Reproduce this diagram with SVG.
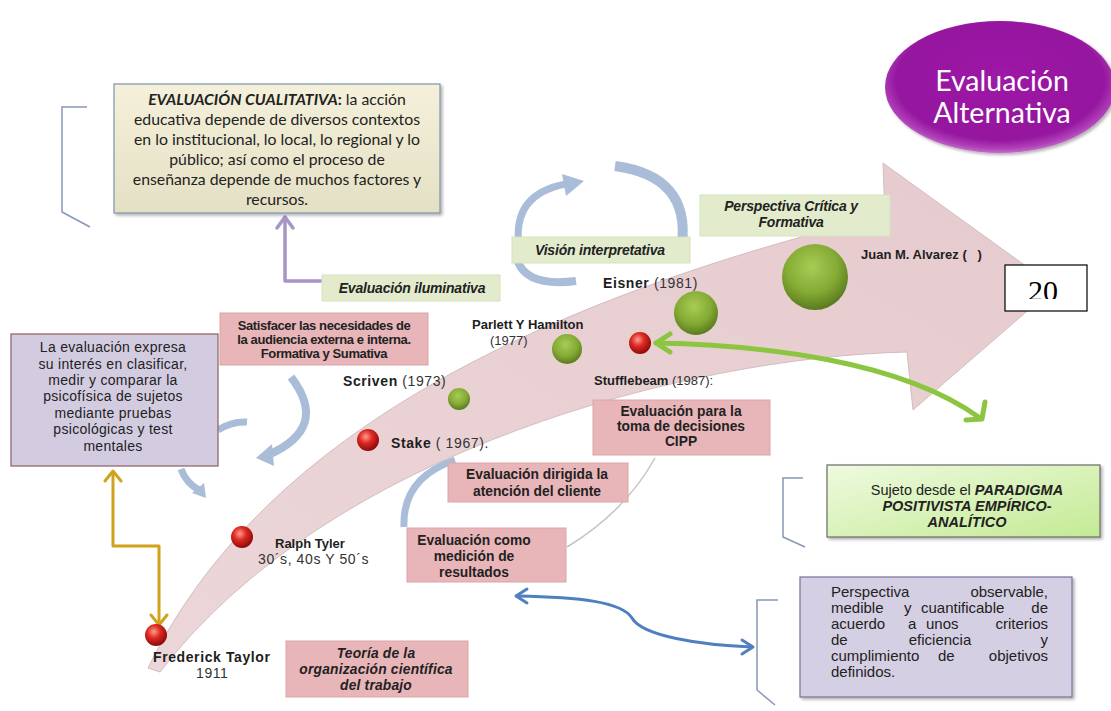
<svg xmlns="http://www.w3.org/2000/svg" width="1111" height="711" viewBox="0 0 1111 711">
<defs>
<style>
.name{font-family:"Liberation Sans",Arial,sans-serif;font-weight:bold;font-size:13px;fill:#1e1e1e}
.big{font-size:14px;letter-spacing:0.6px}
.yr{font-family:"Liberation Sans",Arial,sans-serif;font-weight:normal;fill:#333}
.pk{fill:#e8b5b8;stroke:#dca5a9;stroke-width:1}
.pkt{font-family:"Liberation Sans",Arial,sans-serif;font-weight:bold;font-size:13.8px;fill:#222;text-anchor:middle}
.gb{fill:#e2eccd;stroke:#d6e2bd;stroke-width:1}
.gbt{font-family:"Liberation Sans",Arial,sans-serif;font-weight:bold;font-style:italic;font-size:14px;fill:#222;text-anchor:middle;letter-spacing:-0.2px}
.br{fill:none;stroke:#8597b5;stroke-width:1.5}
.deco{fill:none;stroke:#a9bdd9;stroke-linecap:butt}
.ob{font-family:"Liberation Sans",Arial,sans-serif;font-size:15px;fill:#222}
</style>
<linearGradient id="arrowFill" x1="0" y1="1" x2="1" y2="0">
<stop offset="0" stop-color="#ecd6d8"/>
<stop offset="1" stop-color="#e6cbce"/>
</linearGradient>
<radialGradient id="red" cx="0.4" cy="0.35" r="0.65">
<stop offset="0" stop-color="#ff9b92"/>
<stop offset="0.45" stop-color="#dd2a22"/>
<stop offset="1" stop-color="#8e0a0a"/>
</radialGradient>
<radialGradient id="green" cx="0.45" cy="0.35" r="0.65">
<stop offset="0" stop-color="#a9cc55"/>
<stop offset="0.6" stop-color="#84ab34"/>
<stop offset="1" stop-color="#5a7a1e"/>
</radialGradient>
<radialGradient id="purple" cx="0.5" cy="0.45" r="0.55">
<stop offset="0" stop-color="#9d1aa6"/>
<stop offset="0.82" stop-color="#95169f"/>
<stop offset="0.94" stop-color="#b040b8"/>
<stop offset="1" stop-color="#c46ccb"/>
</radialGradient>
<linearGradient id="beige" x1="0" y1="0" x2="0" y2="1">
<stop offset="0" stop-color="#f5f0da"/>
<stop offset="1" stop-color="#e4e0c4"/>
</linearGradient>
<linearGradient id="lgreen" x1="0" y1="0" x2="1" y2="1">
<stop offset="0" stop-color="#eefadf"/>
<stop offset="1" stop-color="#c4ea94"/>
</linearGradient>
<filter id="sh" x="-10%" y="-10%" width="125%" height="130%">
<feDropShadow dx="2" dy="2" stdDeviation="1.5" flood-color="#000" flood-opacity="0.3"/>
</filter>
<clipPath id="clip20"><rect x="1005" y="265" width="82" height="34"/></clipPath>
</defs>

<rect x="0" y="0" width="1111" height="711" fill="#ffffff"/>

<!-- big curved arrow -->
<g id="timeline-arrow">
<path d="M148,668 C240,480 450,322 885,215 L883,163 L1055,287 L913,410 L907,352 C690,357 330,450 160,672 Z" fill="url(#arrowFill)" stroke="#d2bcc0" stroke-width="1"/>
</g>

<!-- decorative circular arrows -->
<g id="deco-cycles">
<path class="deco" d="M519,246 Q512,194 566,184" stroke-width="7"/>
<polygon points="562,174 584,181 566,196" fill="#a9bdd9"/>
<path class="deco" d="M615,166 Q690,176 682,244" stroke-width="10"/>
<path class="deco" d="M518,262 Q528,287 576,281" stroke-width="8"/>
<path class="deco" d="M291,377 Q330,428 268,455" stroke-width="8"/>
<polygon points="272,444 256,458 274,466" fill="#a9bdd9"/>
<path class="deco" d="M218,430 Q232,421 247,422" stroke-width="7"/>
<path class="deco" d="M181,469 Q186,483 199,490" stroke-width="7"/>
<polygon points="192,493 206,498 204,483" fill="#a9bdd9"/>
<path class="deco" d="M455,460 Q402,478 404,527" stroke-width="7"/>
<path d="M567,547 Q625,512 655,458" fill="none" stroke="#c4c4c4" stroke-width="1.5"/>
</g>

<!-- connectors -->
<g id="connectors" fill="none" stroke-linecap="round" stroke-linejoin="round">
<path d="M113,472 L113,546 L159,546 L159,624" stroke="#d1a21b" stroke-width="3"/>
<path d="M105,481 L113,471 L121,481" stroke="#d1a21b" stroke-width="3"/>
<path d="M151,615 L159,625 L167,615" stroke="#d1a21b" stroke-width="3"/>
<path d="M285,219 L285,281 L321,281" stroke="#a795c7" stroke-width="3.5"/>
<path d="M277,228 L285,217 L293,228" stroke="#a795c7" stroke-width="3.5"/>
<path d="M656,343 C760,345 900,360 980,418" stroke="#8cc641" stroke-width="5"/>
<path d="M670,334 L656,343 L670,352" stroke="#8cc641" stroke-width="5"/>
<path d="M966,420 L982,419 L985,402" stroke="#8cc641" stroke-width="5"/>
<path d="M517,596 C580,597 622,602 632,618 C642,636 700,645 752,647" stroke="#4e7fbf" stroke-width="3"/>
<path d="M527,589 L516,596 L527,603" stroke="#4e7fbf" stroke-width="3"/>
<path d="M742,640 L753,647 L742,654" stroke="#4e7fbf" stroke-width="3"/>
</g>

<!-- brackets -->
<g id="brackets">
<path class="br" d="M87,107 L62,107 L62,212 L90,227"/>
<path class="br" d="M803,478 L783,478 L783,537 L805,547"/>
<path class="br" d="M778,600 L757,600 L757,690 L775,705"/>
</g>

<!-- dots and names -->
<g id="taylor">
<circle cx="156" cy="635" r="11" fill="url(#red)"/>
<text class="name big" x="153" y="662">Frederick Taylor</text>
<text class="yr big" x="196" y="678">1911</text>
</g>
<g id="tyler">
<circle cx="242" cy="537" r="11" fill="url(#red)"/>
<text class="name" x="275" y="548">Ralph Tyler</text>
<text class="yr big" x="258" y="564">30´s, 40s Y 50´s</text>
</g>
<g id="stake">
<circle cx="368" cy="440" r="11" fill="url(#red)"/>
<text class="name big" x="391" y="448">Stake <tspan class="yr">( 1967).</tspan></text>
</g>
<g id="scriven">
<circle cx="459" cy="399" r="11" fill="url(#green)"/>
<text class="name big" x="343" y="386">Scriven <tspan class="yr">(1973)</tspan></text>
</g>
<g id="parlett">
<circle cx="567" cy="349" r="15" fill="url(#green)"/>
<text class="name" x="472" y="329">Parlett Y Hamilton</text>
<text class="yr" font-size="13" x="490" y="345">(1977)</text>
</g>
<g id="stufflebeam">
<circle cx="640" cy="343" r="11" fill="url(#red)"/>
<text class="name" x="594" y="385">Stufflebeam <tspan class="yr"> (1987):</tspan></text>
</g>
<g id="eisner">
<circle cx="696" cy="313" r="22" fill="url(#green)"/>
<text class="name big" x="603" y="288">Eisner <tspan class="yr">(1981)</tspan></text>
</g>
<g id="alvarez">
<circle cx="815" cy="277" r="33" fill="url(#green)"/>
<text class="name" x="861" y="259">Juan M. Alvarez (&#160;&#160;&#160;)</text>
</g>

<!-- text boxes -->
<g id="cualitativa">
<rect x="114" y="84" width="326" height="129" fill="url(#beige)" stroke="#7e93ae" stroke-width="1.2" filter="url(#sh)"/>
<g font-family="Lato,'Liberation Sans',sans-serif" font-size="15.8" fill="#222" text-anchor="middle">
<text x="277" y="105"><tspan font-weight="bold" font-style="italic">EVALUACIÓN CUALITATIVA</tspan><tspan font-weight="bold">:</tspan> la acción</text>
<text x="277" y="125">educativa depende de diversos contextos</text>
<text x="277" y="145">en lo institucional, lo local, lo regional y lo</text>
<text x="277" y="165">público; así como el proceso de</text>
<text x="277" y="185">enseñanza depende de muchos factores y</text>
<text x="277" y="205">recursos.</text>
</g>
</g>

<g id="clasificar">
<rect x="11" y="334" width="207" height="132" fill="#d3cce0" stroke="#8b5e60" stroke-width="1.2"/>
<g font-family="'Liberation Sans',Arial,sans-serif" font-size="14" fill="#222" text-anchor="middle" letter-spacing="0.3">
<text x="113" y="352">La evaluación expresa</text>
<text x="113" y="369">su interés  en clasificar,</text>
<text x="113" y="385">medir y comparar la</text>
<text x="113" y="401">psicofísica de sujetos</text>
<text x="113" y="418">mediante pruebas</text>
<text x="113" y="434">psicológicas y test</text>
<text x="113" y="451">mentales</text>
</g>
</g>

<g id="satisfacer">
<rect class="pk" x="220" y="313" width="208" height="52"/>
<g font-family="'Liberation Sans',Arial,sans-serif" font-weight="bold" font-size="13" fill="#222" text-anchor="middle" letter-spacing="-0.4">
<text x="324" y="330">Satisfacer las necesidades de</text>
<text x="324" y="344">la audiencia externa e interna.</text>
<text x="324" y="358">Formativa y Sumativa</text>
</g>
</g>

<g id="iluminativa">
<rect class="gb" x="322" y="275" width="178" height="26"/>
<text class="gbt" x="412" y="293">Evaluación iluminativa</text>
</g>

<g id="interpretativa">
<rect class="gb" x="512" y="237" width="178" height="26"/>
<text class="gbt" x="600" y="255">Visión interpretativa</text>
</g>

<g id="critica">
<rect class="gb" x="700" y="195" width="190" height="41"/>
<text class="gbt" x="791" y="211">Perspectiva Crítica y</text>
<text class="gbt" x="791" y="227">Formativa</text>
</g>

<g id="cipp">
<rect class="pk" x="593" y="400" width="177" height="55"/>
<text class="pkt" x="681" y="416">Evaluación para la</text>
<text class="pkt" x="681" y="431">toma de decisiones</text>
<text class="pkt" x="681" y="446">CIPP</text>
</g>

<g id="cliente">
<rect class="pk" x="448" y="463" width="180" height="39"/>
<text class="pkt" x="537" y="479">Evaluación dirigida la</text>
<text class="pkt" x="537" y="496">atención del cliente</text>
</g>

<g id="medicion">
<rect class="pk" x="407" y="528" width="159" height="54"/>
<text class="pkt" x="474" y="545">Evaluación como</text>
<text class="pkt" x="474" y="561">medición de</text>
<text class="pkt" x="474" y="577">resultados</text>
</g>

<g id="teoria">
<rect class="pk" x="286" y="641" width="182" height="56"/>
<text class="pkt" x="376" y="658" font-style="italic" letter-spacing="0.2">Teoría de la</text>
<text class="pkt" x="376" y="674" font-style="italic" letter-spacing="0.2">organización científica</text>
<text class="pkt" x="376" y="690" font-style="italic" letter-spacing="0.2">del trabajo</text>
</g>

<g id="paradigma">
<rect x="827" y="465" width="273" height="72" fill="url(#lgreen)" stroke="#6b6b6b" stroke-width="1.2" filter="url(#sh)"/>
<g font-family="'Liberation Sans',Arial,sans-serif" font-size="14.5" fill="#222" text-anchor="middle">
<text x="967" y="495">Sujeto desde el <tspan font-weight="bold" font-style="italic">PARADIGMA</tspan></text>
<text x="967" y="511" font-weight="bold" font-style="italic">POSITIVISTA EMPÍRICO-</text>
<text x="967" y="527" font-weight="bold" font-style="italic">ANALÍTICO</text>
</g>
</g>

<g id="observable">
<rect x="800" y="577" width="272" height="120" fill="#d5cfe3" stroke="#7a6f9c" stroke-width="1.2" filter="url(#sh)"/>
<g class="ob">
<text x="831" y="597">Perspectiva</text>
<text x="1048" y="597" text-anchor="end">observable,</text>
<text x="831" y="613">medible</text><text x="904" y="613">y</text><text x="921" y="613">cuantificable</text><text x="1048" y="613" text-anchor="end">de</text>
<text x="831" y="629">acuerdo</text><text x="908" y="629">a</text><text x="926" y="629">unos</text><text x="1048" y="629" text-anchor="end">criterios</text>
<text x="831" y="645">de</text>
<text x="940" y="645" text-anchor="middle">eficiencia</text>
<text x="1048" y="645" text-anchor="end">y</text>
<text x="831" y="661">cumplimiento</text><text x="938" y="661">de</text><text x="1048" y="661" text-anchor="end">objetivos</text>
<text x="831" y="677">definidos.</text>
</g>
</g>

<g id="alternativa">
<ellipse cx="1000" cy="87" rx="115" ry="66" fill="url(#purple)" filter="url(#sh)"/>
<text x="1002" y="91" font-family="Lato,'Liberation Sans',sans-serif" font-size="28.5" fill="#ffffff" text-anchor="middle">Evaluación</text>
<text x="1002" y="123" font-family="Lato,'Liberation Sans',sans-serif" font-size="28.5" fill="#ffffff" text-anchor="middle">Alternativa</text>
</g>

<g id="box20">
<rect x="1005" y="265" width="82" height="46" fill="#ffffff" stroke="#000" stroke-width="1.2"/>
<text x="1043" y="301" clip-path="url(#clip20)" font-family="'Liberation Serif','Times New Roman',serif" font-size="30" fill="#000" text-anchor="middle">20</text>
</g>
</svg>
